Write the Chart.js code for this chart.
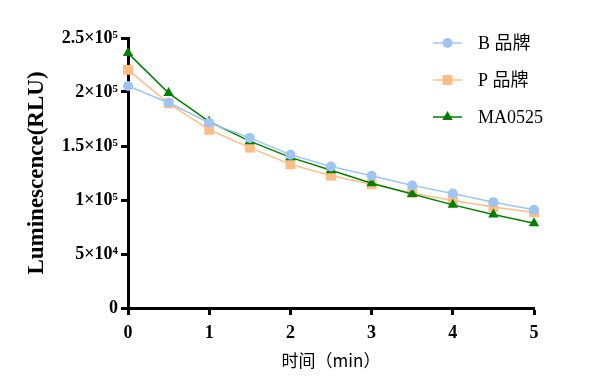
<!DOCTYPE html>
<html>
<head>
<meta charset="utf-8">
<script src="https://cdn.jsdelivr.net/npm/chart.js@4/dist/chart.umd.min.js"></script>
<style>
html,body{margin:0;padding:0;background:#fff;}
#wrap{width:591px;height:390px;position:relative;}
</style>
</head>
<body>
<div id="wrap"><canvas id="c" width="591" height="390"></canvas></div>
<script>
const times = [0, 0.5, 1, 1.5, 2, 2.5, 3, 3.5, 4, 4.5, 5];
const seriesNames = ['B 品牌', 'P 品牌', 'MA0525'];
const bBrand = [205500, 190000, 171500, 157500, 142000, 131000, 122500, 113500, 106000, 98000, 91000];
const pBrand = [220500, 189500, 165000, 148500, 133000, 122500, 114500, 106500, 99500, 93500, 88500];
const ma0525 = [236000, 199000, 172500, 154500, 139500, 127500, 115500, 105500, 95500, 86500, 78500];
const yTickLabels = {0: '0', 50000: '5×10⁴', 100000: '1×10⁵', 150000: '1.5×10⁵', 200000: '2×10⁵', 250000: '2.5×10⁵'};
const xTitle = '时间（min）';
const yTitle = 'Luminescence(RLU)';

const colors = ['#9ec4f6', '#ffbf84', '#008000'];
const styles = ['circle', 'rect', 'triangle'];
const radii = [5, 7, 6];
const orders = [0, 2, 1];
const allSeries = [bBrand, pBrand, ma0525];

const datasets = allSeries.map((vals, i) => ({
  label: seriesNames[i],
  data: times.map((t, j) => ({x: t, y: vals[j]})),
  borderColor: colors[i],
  backgroundColor: colors[i],
  pointBackgroundColor: colors[i],
  pointBorderColor: colors[i],
  pointBorderWidth: 0,
  borderWidth: 1.5,
  pointStyle: styles[i],
  pointRadius: radii[i],
  pointHoverRadius: radii[i],
  tension: 0,
  clip: false,
  order: orders[i]
}));

const legendPlugin = {
  id: 'customLegend',
  afterDraw(chart) {
    const ctx = chart.ctx;
    const ys = [43, 80, 117];
    chart.data.datasets.forEach((ds, i) => {
      const y = ys[i];
      ctx.save();
      ctx.strokeStyle = ds.borderColor;
      ctx.lineWidth = ds.borderWidth;
      ctx.beginPath();
      ctx.moveTo(433, y);
      ctx.lineTo(462, y);
      ctx.stroke();
      const opts = {pointStyle: ds.pointStyle, radius: ds.pointRadius, borderWidth: 0, rotation: 0};
      ctx.fillStyle = ds.backgroundColor;
      ctx.strokeStyle = ds.backgroundColor;
      Chart.helpers.drawPoint(ctx, opts, 447.5, y);
      ctx.fillStyle = '#000';
      ctx.font = '18px "Liberation Serif", "Noto Sans CJK SC", serif';
      ctx.textBaseline = 'middle';
      ctx.textAlign = 'left';
      ctx.fillText(ds.label, 478, y + 1);
      ctx.restore();
    });
  }
};

new Chart(document.getElementById('c'), {
  type: 'line',
  data: {datasets},
  options: {
    responsive: false,
    animation: false,
    events: [],
    layout: {padding: {top: 38, right: 57, left: 0, bottom: 0}},
    plugins: {legend: {display: false}, tooltip: {enabled: false}},
    scales: {
      x: {
        type: 'linear',
        min: 0, max: 5,
        afterFit(scale) { scale.height = 82; },
        ticks: {
          stepSize: 1,
          color: '#000',
          padding: 8,
          font: {family: '"Liberation Serif", serif', size: 18, weight: 'bold'}
        },
        grid: {drawOnChartArea: false, drawTicks: true, tickLength: 7, tickWidth: 3, tickColor: '#000'},
        border: {display: true, color: '#000', width: 3},
        title: {
          display: true,
          text: xTitle,
          color: '#000',
          font: {family: '"Noto Sans CJK SC", sans-serif', size: 17, weight: 'normal'},
          padding: {top: 4, bottom: 19}
        }
      },
      y: {
        min: 0, max: 250000,
        afterFit(scale) { scale.width = 128; },
        ticks: {
          stepSize: 50000,
          color: '#000',
          padding: 3,
          font: {family: '"Liberation Serif", serif', size: 18, weight: 'bold'},
          callback: (v) => yTickLabels[v] !== undefined ? yTickLabels[v] : ''
        },
        grid: {drawOnChartArea: false, drawTicks: true, tickLength: 7, tickWidth: 3, tickColor: '#000'},
        border: {display: true, color: '#000', width: 3},
        title: {
          display: true,
          text: yTitle,
          color: '#000',
          font: {family: '"Liberation Serif", serif', size: 23, weight: 'bold'},
          padding: {top: 23, bottom: 4}
        }
      }
    }
  },
  plugins: [legendPlugin]
});
</script>
</body>
</html>
